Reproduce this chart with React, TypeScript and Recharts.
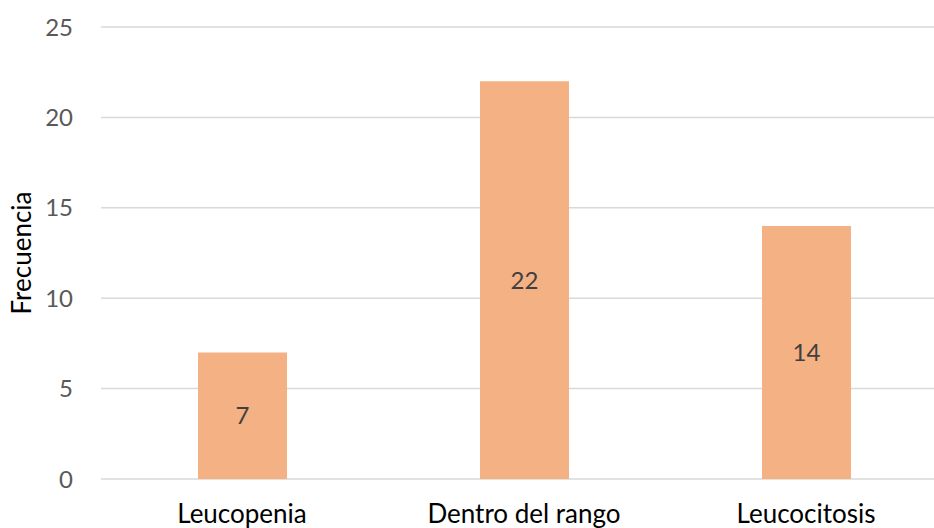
import { Bar, BarChart, CartesianGrid, LabelList, XAxis, YAxis } from 'recharts'

const categories = ['Leucopenia', 'Dentro del rango', 'Leucocitosis']
const frecuencia = [7, 22, 14]
const yTicks = [0, 5, 10, 15, 20, 25]

const data = categories.map((name, i) => ({ name, value: frecuencia[i] }))

const FONT = 'Lato, "Open Sans", sans-serif'

export default function App(): JSX.Element {
  return (
    <div style={{ position: 'fixed', left: 0, top: 0, width: 934, height: 528, overflow: 'hidden', background: '#fff' }}>
      <BarChart width={960} height={528} data={data} margin={{ top: 27, right: 13, bottom: 0, left: 0 }}>
        <CartesianGrid vertical={false} stroke="#d9d9d9" strokeWidth={1.5} />
        <XAxis
          dataKey="name"
          height={49}
          axisLine={false}
          tickLine={false}
          tickMargin={20}
          tick={{ fill: '#000000', fontSize: 26, fontFamily: FONT }}
          interval={0}
        />
        <YAxis
          width={101}
          domain={[0, 25]}
          ticks={yTicks}
          axisLine={false}
          tickLine={false}
          tickMargin={22}
          tick={{ fill: '#595959', fontSize: 24, fontFamily: FONT }}
          label={{
            content: () => (
              <text
                x={0}
                y={0}
                transform="translate(31, 253) rotate(-90)"
                textAnchor="middle"
                fill="#000000"
                fontSize={26}
                fontFamily={FONT}
              >
                Frecuencia
              </text>
            )
          }}
        />
        <Bar dataKey="value" fill="#F4B183" barSize={89} isAnimationActive={false}>
          <LabelList dataKey="value" position="center" fill="#404040" fontSize={24} fontFamily={FONT} />
        </Bar>
      </BarChart>
    </div>
  )
}
